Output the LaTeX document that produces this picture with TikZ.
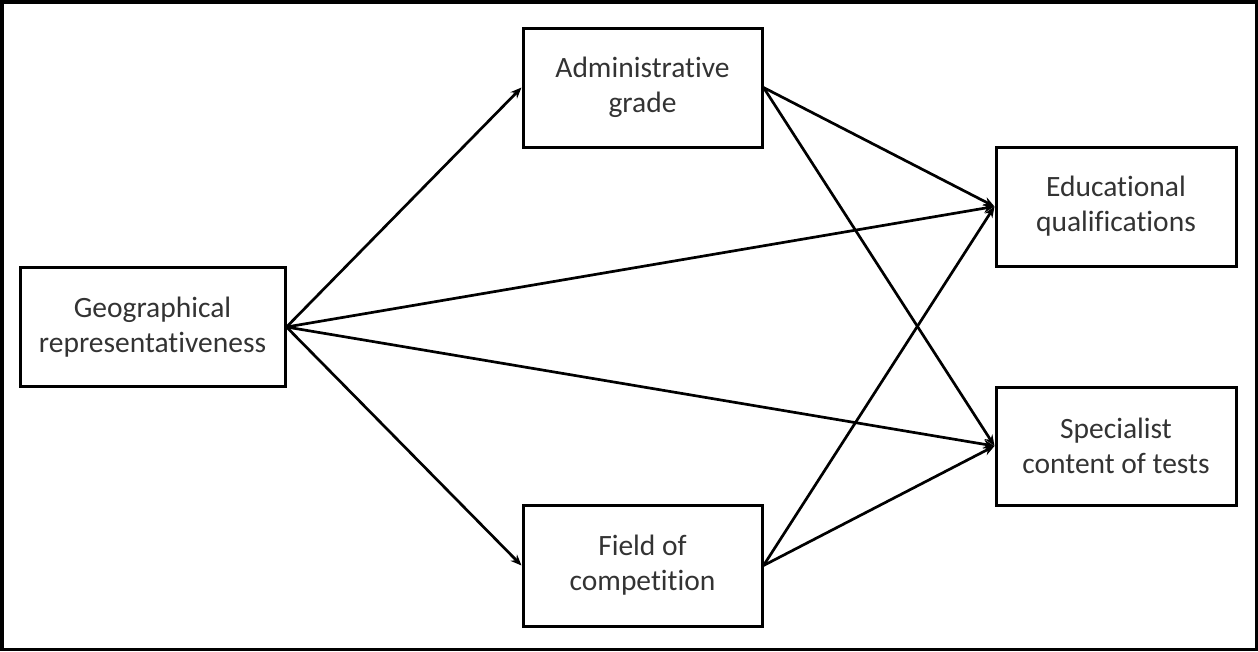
\documentclass[tikz,border=0pt]{standalone}
\usepackage{fontspec}
\setmainfont{Carlito}[Ligatures=NoCommon]
\usetikzlibrary{arrows.meta}
\begin{document}
\begin{tikzpicture}[x=1pt,y=-1pt,
  box/.style={draw=black, line width=3pt, minimum width=#1, minimum height=119pt, align=center, inner sep=0pt, font=\fontsize{29.5}{35}\selectfont, text=black!80},
  box/.default=240pt,
  conn/.style={line width=2.7pt, -{Stealth[length=11pt,width=9pt]}}]
\useasboundingbox (0,0) rectangle (1258,651);
\draw[line width=3.5pt] (1.75,1.75) rectangle (1256.25,649.25);
\node[box=265pt] (geo) at (152.5,327) {Geographical\\representativeness};
\node[box=239pt] (adm) at (642.5,87.5) {Administrative\\grade};
\node[box=239pt, minimum height=121pt] (fld) at (642.5,565.5) {Field of\\competition};
\node[box=240pt] (edu) at (1116,206.5) {Educational\\qualifications};
\node[box=240pt, minimum height=118pt] (spe) at (1116,446) {Specialist\\content of tests};
\draw[conn] (geo.east) -- (adm.west);
\draw[conn] (geo.east) -- (fld.west);
\draw[conn] (geo.east) -- (edu.west);
\draw[conn] (geo.east) -- (spe.west);
\draw[conn] (adm.east) -- (edu.west);
\draw[conn] (adm.east) -- (spe.west);
\draw[conn] (fld.east) -- (edu.west);
\draw[conn] (fld.east) -- (spe.west);
\end{tikzpicture}
\end{document}
